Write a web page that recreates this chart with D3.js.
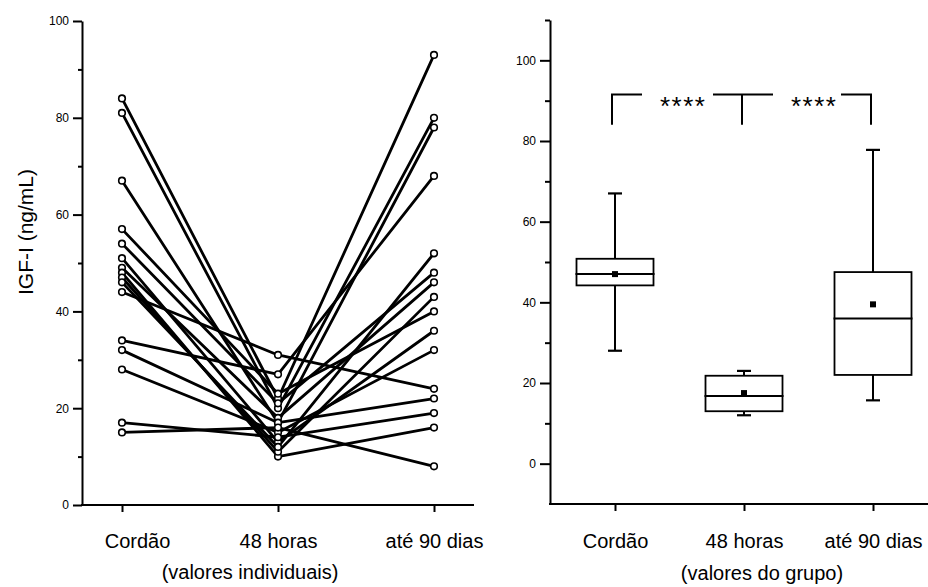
<!DOCTYPE html>
<html><head><meta charset="utf-8">
<script src="https://cdn.jsdelivr.net/npm/d3@7"></script>
<style>
body{margin:0;background:#fff}
svg{display:block}
text{font-family:"Liberation Sans",Arial,sans-serif;fill:#000}
</style>
</head><body>
<svg id="c" width="928" height="587"></svg>
<script>
// ---- data ----
const categories = ["Cordão", "48 horas", "até 90 dias"];
// individual values (one entry per subject)
const cordao  = [84, 81, 67, 57, 54, 51, 49, 48, 47, 46, 44, 34, 32, 28, 17, 15];
const horas48 = [22, 20, 17, 23, 21, 13, 18, 10, 11, 12, 31, 27, 17, 15, 14, 16];
const dias90  = [93, 80, 78, 40, 48, 36, 46, 16, 43, 52, 24, 68, 22, 32, 19, 8];
// group summaries
const boxQ1       = [44.2, 13.0, 22.0];
const boxMedian   = [47.0, 16.8, 36.0];
const boxQ3       = [50.8, 21.8, 47.5];
const whiskerLow  = [28.0, 12.0, 15.7];
const whiskerHigh = [67.0, 23.0, 77.8];
const boxMean     = [47.0, 17.5, 39.5];
// tick labels
const leftMajorTicks  = [0, 20, 40, 60, 80, 100];
const leftMinorTicks  = [10, 30, 50, 70, 90];
const rightMajorTicks = [0, 20, 40, 60, 80, 100];
const rightMinorTicks = [10, 30, 50, 70, 90, 110];
const significance = "****";
const bracketTop = 91.5, bracketBottom = 84;
const yLabel = "IGF-I (ng/mL)";
const leftSubtitle = "(valores individuais)";
const rightSubtitle = "(valores do grupo)";

const svg = d3.select("#c");
const FONT = '"Liberation Sans", Arial, sans-serif';

function styleAxis(g, w) {
  g.selectAll("path.domain").attr("stroke", "#000").attr("stroke-width", w);
  g.selectAll(".tick line").attr("stroke", "#000").attr("stroke-width", 2);
}

// ================= LEFT PANEL =================
const xL = d3.scalePoint().domain(categories).range([122, 434]);
const yL = d3.scaleLinear().domain([0, 100]).range([505, 21]);
const leftAxisX = 82, leftAxisEnd = 474;

const gyL = svg.append("g").attr("transform", `translate(${leftAxisX},0)`)
  .call(d3.axisLeft(yL).tickValues(leftMajorTicks).tickSize(9).tickSizeOuter(0).tickPadding(4).tickFormat(d3.format("d")));
styleAxis(gyL, 2);
gyL.selectAll("text").attr("font-size", 12).attr("font-family", FONT);
const gyLm = svg.append("g").attr("transform", `translate(${leftAxisX},0)`)
  .call(d3.axisLeft(yL).tickValues(leftMinorTicks).tickSize(4).tickSizeOuter(0).tickFormat(""));
gyLm.select("path.domain").remove();
styleAxis(gyLm, 2);

// x axis line
svg.append("line").attr("x1", leftAxisX - 1).attr("x2", leftAxisEnd)
  .attr("y1", yL(0)).attr("y2", yL(0)).attr("stroke", "#000").attr("stroke-width", 2);
const gxL = svg.append("g").attr("transform", `translate(0,${yL(0)})`)
  .call(d3.axisBottom(xL).tickSize(7).tickSizeOuter(0));
gxL.select("path.domain").remove();
styleAxis(gxL, 2);
gxL.selectAll("text").attr("font-size", 20).attr("font-family", FONT).attr("y", 43).attr("dy", 0)
  .attr("dx", (d, i) => i === 0 ? 15 : 0);

// individual lines
const subjects = cordao.map((c, i) => [c, horas48[i], dias90[i]]);
const line = d3.line().x((d, i) => xL(categories[i])).y(d => yL(d));
svg.append("g").selectAll("path").data(subjects).join("path")
  .attr("d", line).attr("fill", "none").attr("stroke", "#000")
  .attr("stroke-width", 2.8).attr("stroke-linejoin", "round");
const pts = [];
subjects.forEach(s => s.forEach((v, i) => pts.push({c: categories[i], v})));
svg.append("g").selectAll("circle").data(pts).join("circle")
  .attr("cx", d => xL(d.c)).attr("cy", d => yL(d.v)).attr("r", 3.3)
  .attr("fill", "#fff").attr("stroke", "#000").attr("stroke-width", 1.6);

// y label
svg.append("text").attr("transform", `translate(33,232) rotate(-90)`)
  .attr("text-anchor", "middle").attr("font-size", 21).text(yLabel);
svg.append("text").attr("x", 250).attr("y", 579).attr("text-anchor", "middle")
  .attr("font-size", 20).text(leftSubtitle);

// ================= RIGHT PANEL =================
const xR = d3.scalePoint().domain(categories).range([615, 873]);
const yR = d3.scaleLinear().domain([-10, 110]).range([504, 20]);
const rightAxisX = 550, rightAxisEnd = 928;

const gyR = svg.append("g").attr("transform", `translate(${rightAxisX},0)`)
  .call(d3.axisLeft(yR).tickValues(rightMajorTicks).tickSize(10).tickSizeOuter(0).tickPadding(4).tickFormat(d3.format("d")));
styleAxis(gyR, 2);
gyR.selectAll("text").attr("font-size", 12).attr("font-family", FONT);
const gyRm = svg.append("g").attr("transform", `translate(${rightAxisX},0)`)
  .call(d3.axisLeft(yR).tickValues(rightMinorTicks).tickSize(5).tickSizeOuter(0).tickFormat(""));
gyRm.select("path.domain").remove();
styleAxis(gyRm, 2);

svg.append("line").attr("x1", rightAxisX - 1).attr("x2", rightAxisEnd)
  .attr("y1", yR(-10)).attr("y2", yR(-10)).attr("stroke", "#000").attr("stroke-width", 2);
const gxR = svg.append("g").attr("transform", `translate(0,${yR(-10)})`)
  .call(d3.axisBottom(xR).tickSize(7).tickSizeOuter(0));
gxR.select("path.domain").remove();
styleAxis(gxR, 2);
gxR.selectAll("text").attr("font-size", 20).attr("font-family", FONT).attr("y", 44).attr("dy", 0);

svg.append("text").attr("x", 762).attr("y", 580).attr("text-anchor", "middle")
  .attr("font-size", 20).text(rightSubtitle);

// boxes
const boxW = 77, capW = 14;
const boxes = categories.map((c, i) => ({c, q1: boxQ1[i], med: boxMedian[i], q3: boxQ3[i],
  lo: whiskerLow[i], hi: whiskerHigh[i], mean: boxMean[i]}));
const gb = svg.append("g").selectAll("g").data(boxes).join("g");
gb.append("line").attr("x1", d => xR(d.c)).attr("x2", d => xR(d.c))
  .attr("y1", d => yR(d.hi)).attr("y2", d => yR(d.q3)).attr("stroke", "#000").attr("stroke-width", 2);
gb.append("line").attr("x1", d => xR(d.c)).attr("x2", d => xR(d.c))
  .attr("y1", d => yR(d.q1)).attr("y2", d => yR(d.lo)).attr("stroke", "#000").attr("stroke-width", 2);
gb.append("line").attr("x1", d => xR(d.c) - capW / 2).attr("x2", d => xR(d.c) + capW / 2)
  .attr("y1", d => yR(d.hi)).attr("y2", d => yR(d.hi)).attr("stroke", "#000").attr("stroke-width", 2.2);
gb.append("line").attr("x1", d => xR(d.c) - capW / 2).attr("x2", d => xR(d.c) + capW / 2)
  .attr("y1", d => yR(d.lo)).attr("y2", d => yR(d.lo)).attr("stroke", "#000").attr("stroke-width", 2.2);
gb.append("rect").attr("x", d => xR(d.c) - boxW / 2).attr("width", boxW)
  .attr("y", d => yR(d.q3)).attr("height", d => yR(d.q1) - yR(d.q3))
  .attr("fill", "#fff").attr("stroke", "#000").attr("stroke-width", 1.8);
gb.append("line").attr("x1", d => xR(d.c) - boxW / 2 - 1).attr("x2", d => xR(d.c) + boxW / 2 + 1)
  .attr("y1", d => yR(d.med)).attr("y2", d => yR(d.med)).attr("stroke", "#000").attr("stroke-width", 2);
gb.append("rect").attr("x", d => xR(d.c) - 3).attr("y", d => yR(d.mean) - 3)
  .attr("width", 6).attr("height", 6).attr("fill", "#000");

// significance brackets
const bt = yR(bracketTop), bb = yR(bracketBottom);
const c0 = xR(categories[0]) - 3, c1 = xR(categories[1]) - 2, c2 = xR(categories[2]) - 2;
const bracketPaths = [
  `M${c0},${bb}V${bt}H${c0 + 30}`,
  `M${c1 - 29},${bt}H${c1 + 31}M${c1},${bt}V${bb}`,
  `M${c2 - 30},${bt}H${c2}V${bb}`
];
svg.append("g").selectAll("path").data(bracketPaths).join("path")
  .attr("d", d => d).attr("fill", "none").attr("stroke", "#000").attr("stroke-width", 2);
svg.append("g").selectAll("text").data([c0 + 48, c1 + 49]).join("text")
  .attr("x", d => d).attr("y", bt + 20).attr("font-size", 26).attr("letter-spacing", 1.5)
  .text(significance);
</script>
</body></html>
